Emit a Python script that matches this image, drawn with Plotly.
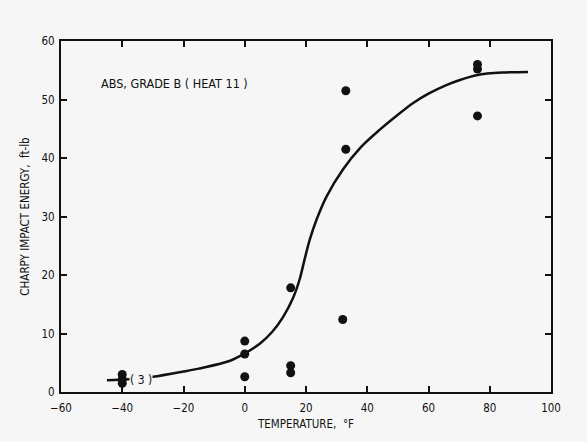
import plotly.graph_objects as go

# Measured data points (temperature °F, Charpy energy ft-lb)
temp_pts = [-40, -40, -40, 0, 0, 0, 15, 15, 15, 32, 33, 33, 76, 76, 76]
energy_pts = [1.5, 2.2, 3.0, 8.7, 6.5, 2.6, 17.8, 4.5, 3.3, 12.4, 51.5, 41.5, 56.0, 55.2, 47.2]

# Hand-drawn fit curve
curve_t = [-45, -38, -30, -20, -15, -5, 0, 5, 9, 12.5, 15.8, 18, 19.6, 21.2, 23.4, 26.7, 32, 38, 44, 50, 55, 60, 66, 70, 76, 84, 92.5]
curve_e = [2.0, 2.2, 2.6, 3.5, 4.0, 5.3, 6.6, 8.3, 10.3, 12.8, 16.1, 19.4, 22.8, 26.0, 29.4, 33.4, 38.0, 41.9, 44.8, 47.4, 49.4, 51.0, 52.5, 53.3, 54.2, 54.6, 54.7]

x_ticks = [-60, -40, -20, 0, 20, 40, 60, 80, 100]
y_ticks = [0, 10, 20, 30, 40, 50, 60]

FONT = "DejaVu Sans Condensed"
INK = "#111111"
BG = "#f6f6f6"

fig = go.Figure()
fig.add_trace(go.Scatter(x=curve_t, y=curve_e, mode="lines",
                         line=dict(color=INK, width=2.5, shape="spline", smoothing=0.8),
                         hoverinfo="skip", showlegend=False))
fig.add_trace(go.Scatter(x=temp_pts, y=energy_pts, mode="markers",
                         marker=dict(color=INK, size=9), showlegend=False))

fig.add_annotation(x=-47.5, y=52.8, xref="x", yref="y", text="ABS, GRADE B ( HEAT 11 )",
                   showarrow=False, xanchor="left", yanchor="middle",
                   font=dict(family=FONT, size=12.5, color=INK))
fig.add_annotation(x=-37.8, y=2.1, xref="x", yref="y", text="( 3 )",
                   showarrow=False, xanchor="left", yanchor="middle", bgcolor=BG, borderpad=0,
                   font=dict(family=FONT, size=12, color=INK))

axis_common = dict(showgrid=False, zeroline=False, showline=True, linecolor=INK, linewidth=2,
                   ticks="inside", ticklen=6, tickwidth=1.5, tickcolor=INK, mirror="ticks",
                   tickfont=dict(family=FONT, size=11.5, color=INK))

fig.update_xaxes(range=[-60, 100], tickvals=x_ticks, ticklabelstandoff=4,
                 title=dict(text="TEMPERATURE,  °F", font=dict(family=FONT, size=11.5, color=INK), standoff=6),
                 **axis_common)
fig.update_yaxes(range=[0, 60], tickvals=y_ticks, ticklabelstandoff=2,
                 title=dict(text="CHARPY IMPACT ENERGY,  ft-lb", font=dict(family=FONT, size=11.5, color=INK), standoff=10),
                 **axis_common)

fig.update_layout(width=587, height=442, margin=dict(l=61, r=36, t=41, b=50),
                  paper_bgcolor=BG, plot_bgcolor=BG)

fig.write_html("out.html")
